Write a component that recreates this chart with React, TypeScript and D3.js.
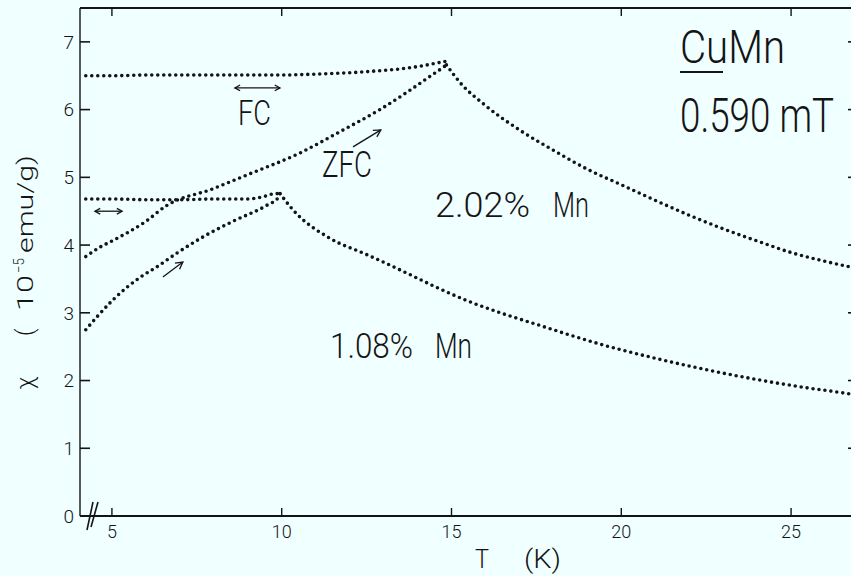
import React from 'react';
import * as d3 from 'd3';

// ---- data ----
// 2.02 % Mn
const fc202T = [4.23, 5.0, 6.0, 7.0, 8.0, 9.0, 10.0, 10.8, 12.5, 13.8, 14.6, 14.8];
const fc202X = [6.5, 6.5, 6.51, 6.51, 6.51, 6.51, 6.51, 6.52, 6.56, 6.62, 6.69, 6.71];
const zfc202T = [4.23, 4.65, 5.0, 6.0, 6.6, 7.97, 9.0, 10.54, 11.7, 12.89, 13.7, 14.51, 14.8];
const zfc202X = [3.83, 3.97, 4.06, 4.35, 4.58, 4.83, 5.04, 5.36, 5.67, 6.0, 6.26, 6.54, 6.64];
const desc202T = [14.85, 15.25, 16.0, 17.0, 18.0, 19.0, 20.0, 21.0, 22.0, 23.0, 24.0, 25.0, 26.0, 27.0];
const desc202X = [6.66, 6.4, 6.06, 5.7, 5.4, 5.12, 4.89, 4.66, 4.44, 4.24, 4.06, 3.89, 3.76, 3.65];
// 1.08 % Mn
const fc108T = [4.23, 5.0, 6.0, 7.0, 8.0, 9.0, 9.5, 9.8];
const fc108X = [4.68, 4.68, 4.67, 4.67, 4.68, 4.68, 4.72, 4.76];
const zfc108T = [4.23, 4.56, 5.03, 5.82, 6.33, 6.91, 7.68, 8.56, 9.57, 9.9];
const zfc108X = [2.75, 2.94, 3.19, 3.52, 3.68, 3.88, 4.12, 4.35, 4.59, 4.7];
const desc108T = [9.95, 10.33, 11.42, 12.5, 13.5, 14.5, 15.5, 16.5, 17.5, 18.5, 19.5, 20.5, 21.5, 22.5, 23.5, 24.5, 25.5, 26.5, 27.0];
const desc108X = [4.76, 4.52, 4.1, 3.86, 3.63, 3.39, 3.17, 2.99, 2.83, 2.67, 2.52, 2.39, 2.27, 2.16, 2.06, 1.97, 1.89, 1.82, 1.78];

const xTicks = [5, 10, 15, 20, 25];
const xTickLabels = ['5', '10', '15', '20', '25'];
const yTicks = [0, 1, 2, 3, 4, 5, 6, 7];
const yTickLabels = ['0', '1', '2', '3', '4', '5', '6', '7'];

const BG = '#f0ffff';
const INK = '#141414';
const FONT = "Roboto, 'DejaVu Sans', sans-serif";

type P = [number, number];
const zip = (ts: number[], xs: number[]): P[] => ts.map((t, i) => [t, xs[i]] as P);

function chevron(x1: number, y1: number, x2: number, y2: number, s = 6) {
  const a = Math.atan2(y2 - y1, x2 - x1);
  const b = 0.5;
  const p1 = [x2 - s * Math.cos(a - b), y2 - s * Math.sin(a - b)];
  const p2 = [x2 - s * Math.cos(a + b), y2 - s * Math.sin(a + b)];
  return `M${p1[0]},${p1[1]}L${x2},${y2}L${p2[0]},${p2[1]}`;
}

export default function App() {
  const W = 851;
  const H = 576;
  const x = d3.scaleLinear().domain([4.06, 27]).range([80, 859]);
  const y = d3.scaleLinear().domain([0, 7.5]).range([516, 8]);
  const line = d3
    .line<P>()
    .x((d) => x(d[0]))
    .y((d) => y(d[1]))
    .curve(d3.curveMonotoneX);

  const series: P[][] = [
    zip(fc202T, fc202X).concat([[desc202T[0], desc202X[0]]]),
    zip(zfc202T, zfc202X).concat([[desc202T[0], desc202X[0]]]),
    zip(desc202T, desc202X),
    zip(fc108T, fc108X).concat([[desc108T[0], desc108X[0]]]),
    zip(zfc108T, zfc108X).concat([[desc108T[0], desc108X[0]]]),
    zip(desc108T, desc108X),
  ];

  // arrows in data coordinates
  const dblArrows = [
    { t1: 8.62, t2: 9.95, v: 6.32 },
    { t1: 4.5, t2: 5.3, v: 4.5 },
  ];
  const arrows = [
    { t1: 12.1, v1: 5.45, t2: 12.92, v2: 5.7 },
    { t1: 6.5, v1: 3.53, t2: 7.09, v2: 3.75 },
  ];

  const x0 = 80;
  const xR = x(27);
  const yB = y(0);
  const yT = y(7.5);

  return (
    <svg
      width={W}
      height={H}
      style={{ position: 'absolute', left: 0, top: 0, display: 'block' }}
      fontFamily={FONT}
    >
      <rect x={0} y={0} width={W} height={H} fill={BG} />
      {/* frame */}
      <line x1={x0} y1={yT} x2={xR} y2={yT} stroke={INK} strokeWidth={2} />
      <line x1={x0} y1={yT} x2={x0} y2={yB} stroke={INK} strokeWidth={1.4} />
      <line x1={x0} y1={yB} x2={xR} y2={yB} stroke={INK} strokeWidth={2} />
      <line x1={xR} y1={yT} x2={xR} y2={yB} stroke={INK} strokeWidth={2} />
      {/* axis break */}
      <path d="M87,530L93,502M91,527L98,502" stroke={INK} strokeWidth={1.6} fill="none" />

      {/* y ticks */}
      {yTicks.map((v, i) => (
        <g key={'y' + v}>
          <line x1={x0} x2={x0 + 10} y1={y(v)} y2={y(v)} stroke={INK} strokeWidth={1.6} />
          <line x1={xR} x2={xR - 11} y1={y(v)} y2={y(v)} stroke={INK} strokeWidth={1.6} />
          <text x={74} y={y(v)} dy="0.36em" textAnchor="end" fontSize={19} fill={INK} fontWeight={300}>
            {yTickLabels[i]}
          </text>
        </g>
      ))}
      {/* x ticks */}
      {xTicks.map((v, i) => (
        <g key={'x' + v}>
          <line x1={x(v)} x2={x(v)} y1={yB} y2={yB - 8} stroke={INK} strokeWidth={1.4} />
          <line x1={x(v)} x2={x(v)} y1={yT} y2={yT + 8} stroke={INK} strokeWidth={1.4} />
          <text x={x(v)} y={538} textAnchor="middle" fontSize={18} fill={INK} fontWeight={300}>
            {xTickLabels[i]}
          </text>
        </g>
      ))}

      {/* data */}
      {series.map((s, i) => (
        <path
          key={'s' + i}
          d={line(s) || ''}
          fill="none"
          stroke={INK}
          strokeWidth={3.6}
          strokeLinecap="round"
          strokeDasharray="0 6"
        />
      ))}

      {/* arrows */}
      {dblArrows.map((a, i) => {
        const X1 = x(a.t1), X2 = x(a.t2), Y = y(a.v);
        return (
          <g key={'da' + i} stroke={INK} strokeWidth={1.3} fill="none">
            <line x1={X1} x2={X2} y1={Y} y2={Y} />
            <path d={chevron(X1, Y, X2, Y, 6)} />
            <path d={chevron(X2, Y, X1, Y, 6)} />
          </g>
        );
      })}
      {arrows.map((a, i) => {
        const X1 = x(a.t1), Y1 = y(a.v1), X2 = x(a.t2), Y2 = y(a.v2);
        return (
          <g key={'a' + i} stroke={INK} strokeWidth={1.3} fill="none">
            <line x1={X1} x2={X2} y1={Y1} y2={Y2} />
            <path d={chevron(X1, Y1, X2, Y2, 8)} />
          </g>
        );
      })}

      {/* annotations */}
      <g fill={INK} fontWeight={300}>
        <text transform="translate(680,63) scale(1,1.3)" fontSize={36} textLength={105} lengthAdjust="spacingAndGlyphs">CuMn</text>
        <line x1={680} x2={723} y1={72} y2={72} stroke={INK} strokeWidth={2} />
        <text transform="translate(680,132) scale(1,1.4)" fontSize={35} textLength={154} lengthAdjust="spacingAndGlyphs">0.590 mT</text>
        <text x={238} y={125} fontSize={35} textLength={33} lengthAdjust="spacingAndGlyphs">FC</text>
        <text x={322} y={177} fontSize={36} textLength={50} lengthAdjust="spacingAndGlyphs">ZFC</text>
        <text x={435} y={217} fontSize={35} textLength={95} lengthAdjust="spacingAndGlyphs">2.02%</text>
        <text x={553} y={217} fontSize={35} textLength={36} lengthAdjust="spacingAndGlyphs">Mn</text>
        <text x={330} y={358} fontSize={35} textLength={83} lengthAdjust="spacingAndGlyphs">1.08%</text>
        <text x={435} y={358} fontSize={35} textLength={37} lengthAdjust="spacingAndGlyphs">Mn</text>
        {/* axis titles */}
        <text x={475} y={568} fontSize={25} textLength={14} lengthAdjust="spacingAndGlyphs">T</text>
        <text x={524} y={568} fontSize={25} textLength={37} lengthAdjust="spacingAndGlyphs">(K)</text>
        <text transform="translate(33,383) rotate(-90)" fontSize={24} textAnchor="middle">χ</text>
        <text transform="translate(33,336) rotate(-90)" fontSize={23}>(</text>
        <text transform="translate(33,311) rotate(-90)" fontSize={22} textLength={36} lengthAdjust="spacingAndGlyphs">10</text>
        <text transform="translate(24,273) rotate(-90)" fontSize={15} textLength={15} lengthAdjust="spacingAndGlyphs">−5</text>
        <text transform="translate(33,253) rotate(-90)" fontSize={22} textLength={98} lengthAdjust="spacingAndGlyphs">emu/g)</text>
      </g>
    </svg>
  );
}
